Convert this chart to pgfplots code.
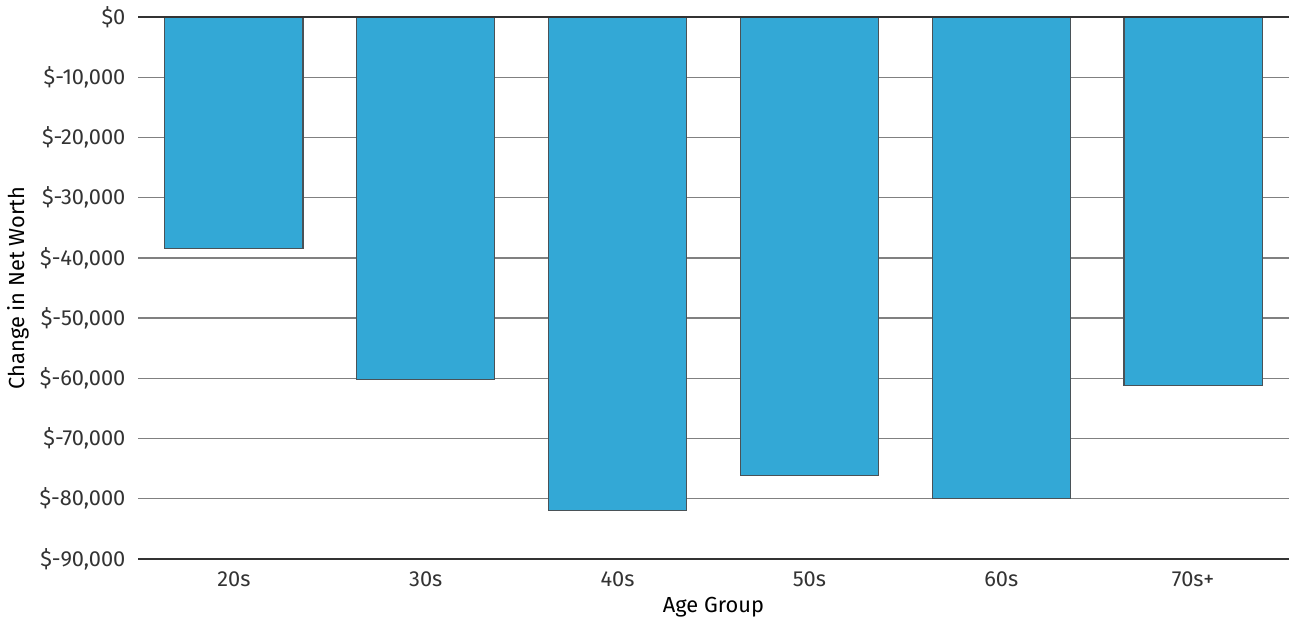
\documentclass[border=0pt]{standalone}
\usepackage{pgfplots}
\pgfplotsset{compat=1.18}
\usepackage{fontspec}
\setmainfont{Fira Sans}

\definecolor{barblue}{HTML}{33A8D6}
\definecolor{baredge}{HTML}{4A5257}
\definecolor{gridgray}{HTML}{808080}
\definecolor{txt}{HTML}{333333}

\begin{document}
\fontsize{10.9}{13}\selectfont
\begin{tikzpicture}
\begin{axis}[
  scale only axis,
  width=575.5pt, height=271pt,
  xmin=-0.5, xmax=5.5,
  ymin=-90000, ymax=0,
  axis line style={draw=none},
  major tick length=0pt,
  scaled y ticks=false,
  xtick=data,
  xticklabels={20s,30s,40s,50s,60s,70s+},
  ytick={0,-10000,-20000,-30000,-40000,-50000,-60000,-70000,-80000,-90000},
  yticklabels={\$0,\$-10{,}000,\$-20{,}000,\$-30{,}000,\$-40{,}000,\$-50{,}000,\$-60{,}000,\$-70{,}000,\$-80{,}000,\$-90{,}000},
  ymajorgrids,
  major grid style={gridgray, line width=0.65pt},
  tick label style={font=\fontsize{10.9}{13}\selectfont, text=txt},
  yticklabel style={xshift=-2.5pt},
  xticklabel style={yshift=-2.5pt},
  label style={font=\fontsize{10.9}{13}\selectfont, text=txt},
  xlabel={Age Group},
  ylabel={Change in Net Worth},
  every axis x label/.style={at={(axis description cs:0.5,0)}, yshift=-24pt, anchor=center},
  every axis y label/.style={at={(axis description cs:-0.1043,0.5)}, rotate=90, anchor=center},
  clip=false,
]
\addplot[ybar, bar width=0.72, fill=barblue, draw=baredge, line width=0.6pt]
  coordinates {(0,-38500) (1,-60200) (2,-81900) (3,-76200) (4,-80000) (5,-61200)};
\draw[txt, line width=0.8pt] (rel axis cs:0,0) -- (rel axis cs:1,0);
\draw[txt, line width=0.8pt] (rel axis cs:0,1) -- (rel axis cs:1,1);
\coordinate (ll) at (rel axis cs:0,0);
\coordinate (ur) at (rel axis cs:1,1);
\end{axis}
\pgfresetboundingbox
\path ([shift={(-69pt,-30pt)}]ll) rectangle ([shift={(0pt,8.5pt)}]ur);
\end{tikzpicture}
\end{document}
